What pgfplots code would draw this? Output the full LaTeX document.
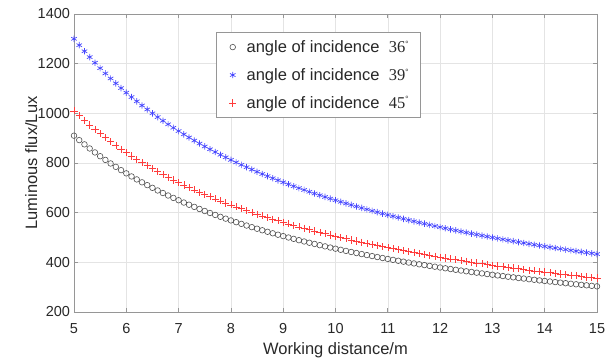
\documentclass[border=0pt]{standalone}
\usepackage{pgfplots}
\pgfplotsset{compat=1.18}
\usepackage{pgfplotstable}
\usepackage{fontspec}
\setmainfont{Liberation Sans}
\newfontfamily\seriffont{Liberation Serif}
\definecolor{gridgray}{RGB}{228,228,228}
\definecolor{axgray}{RGB}{150,150,150}
\definecolor{txtgray}{RGB}{40,40,40}
\definecolor{mkblack}{RGB}{80,80,80}
\definecolor{mkblue}{RGB}{70,70,255}
\definecolor{mkred}{RGB}{255,60,60}
\pgfplotstableread{
x a b c
5.0 910 1300 1010
5.1 892.2 1274.5 990.2
5.2 875 1250 971.2
5.3 858.5 1226.4 952.8
5.4 842.6 1203.7 935.2
5.5 827.3 1181.8 918.2
5.6 812.5 1160.7 901.8
5.7 798.2 1140.4 885.9
5.8 784.5 1120.7 870.7
5.9 771.2 1101.7 855.9
6.0 758.3 1083.3 841.6
6.1 745.9 1065.6 827.9
6.2 733.9 1048.4 814.5
6.3 722.2 1031.7 801.6
6.4 710.9 1015.6 789.0
6.5 700 1000 776.9
6.6 689.4 984.8 765.2
6.7 679.1 970.1 753.7
6.8 669.1 955.9 742.6
6.9 659.4 942.0 731.9
7.0 650 928.6 721.4
7.1 640.8 915.5 711.2
7.2 632.0 902.8 701.4
7.3 623.3 890.4 691.8
7.4 614.9 878.4 682.5
7.5 606.7 866.7 673.4
7.6 598.7 855.3 664.5
7.7 590.9 844.2 655.8
7.8 583.3 833.3 647.4
7.9 575.9 822.8 639.2
8.0 568.8 812.5 631.3
8.1 561.7 802.5 623.4
8.2 554.9 792.7 615.9
8.3 548.2 783.1 608.4
8.4 541.7 773.8 601.2
8.5 535.3 764.7 594.1
8.6 529.1 755.8 587.2
8.7 523.0 747.1 580.5
8.8 517.0 738.6 573.8
8.9 511.2 730.3 567.4
9.0 505.6 722.2 561.2
9.1 500.0 714.3 554.9
9.2 494.6 706.5 548.9
9.3 489.2 698.9 543.0
9.4 484.0 691.5 537.2
9.5 478.9 684.2 531.5
9.6 474.0 677.1 526.1
9.7 469.1 670.1 520.6
9.8 464.3 663.3 515.3
9.9 459.6 656.6 510.1
10.0 455 650 505
10.1 450.5 643.6 500.0
10.2 446.1 637.3 495.1
10.3 441.7 631.1 490.2
10.4 437.5 625.0 485.6
10.5 433.3 619.0 480.9
10.6 429.2 613.2 476.4
10.7 425.2 607.5 471.9
10.8 421.3 601.9 467.6
10.9 417.4 596.3 463.3
11.0 413.6 590.9 459.1
11.1 409.9 585.6 454.9
11.2 406.3 580.4 450.9
11.3 402.7 575.2 446.9
11.4 399.1 570.2 443.0
11.5 395.7 565.2 439.2
11.6 392.2 560.3 435.3
11.7 388.9 555.6 431.6
11.8 385.6 550.8 428.0
11.9 382.4 546.2 424.4
12.0 379.2 541.7 420.9
12.1 376.0 537.2 417.3
12.2 373.0 532.8 414.0
12.3 369.9 528.5 410.6
12.4 366.9 524.2 407.2
12.5 364 520 404
12.6 361.1 515.9 400.8
12.7 358.3 511.8 397.7
12.8 355.5 507.8 394.6
12.9 352.7 503.9 391.5
13.0 350 500 388.5
13.1 347.3 496.2 385.5
13.2 344.7 492.4 382.6
13.3 342.1 488.7 379.7
13.4 339.6 485.1 376.9
13.5 337.0 481.5 374.0
13.6 334.6 477.9 371.4
13.7 332.1 474.5 368.6
13.8 329.7 471.0 365.9
13.9 327.3 467.6 363.3
14.0 325.0 464.3 360.7
14.1 322.7 461.0 358.2
14.2 320.4 457.7 355.6
14.3 318.2 454.5 353.2
14.4 316.0 451.4 350.7
14.5 313.8 448.3 348.3
14.6 311.6 445.2 345.8
14.7 309.5 442.2 343.5
14.8 307.4 439.2 341.2
14.9 305.4 436.2 339.0
15.0 303.3 433.3 336.6
}\datatable
\newcommand{\angdeg}[1]{{\seriffont #1\textsuperscript{\footnotesize °}}}
\begin{document}
\begin{tikzpicture}
\begin{axis}[
  scale only axis,
  width=523bp, height=298bp,
  xmin=5, xmax=15, ymin=200, ymax=1400,
  xtick={5,6,...,15}, ytick={200,400,...,1400},
  grid=major,
  major grid style={gridgray, line width=0.6bp},
  axis line style={axgray, line width=0.8bp},
  tick style={axgray, line width=0.8bp},
  tick align=inside,
  major tick length=4bp,
  /pgf/number format/assume math mode=true,
  ticklabel style={font=\fontsize{14.5bp}{17bp}\selectfont, text=txtgray},
  xticklabel style={anchor=base, yshift=-21bp},
  yticklabel style={anchor=east, xshift=-0.5bp},
  /pgf/number format/1000 sep={},
  xlabel={Working distance/m},
  ylabel={Luminous flux/Lux},
  label style={font=\fontsize{16.5bp}{19bp}\selectfont, text=txtgray},
  xlabel style={at={(axis description cs:0.5,-0.141)}, anchor=base},
  ylabel style={at={(axis description cs:-0.0707,0.5)}, anchor=base},
  legend style={at={(axis description cs:0.2715,0.9396)}, anchor=north west,
    draw=axgray, line width=0.8bp, fill=white,
    font=\fontsize{16.5bp}{19bp}\selectfont, text=txtgray,
    inner xsep=9bp, inner ysep=6bp, row sep=10.5bp,
    /tikz/every odd column/.append style={column sep=7.5bp}},
  legend image code/.code={\path (0bp,0bp) (11bp,0bp); \draw[#1] plot coordinates {(7bp,0bp)};},
  legend cell align=left,
]
\addplot[only marks, mark=o, mark size=2.8bp, mkblack, line width=0.6bp] table[x=x,y=a] {\datatable};
\addlegendentry{angle of incidence \ \angdeg{36}}
\addplot[only marks, mark=asterisk, mark size=3.2bp, mkblue, line width=0.7bp] table[x=x,y=b] {\datatable};
\addlegendentry{angle of incidence \ \angdeg{39}}
\addplot[only marks, mark=+, mark size=3.6bp, mkred, line width=0.6bp] table[x=x,y=c] {\datatable};
\addlegendentry{angle of incidence \ \angdeg{45}}
\end{axis}
\pgfresetboundingbox
\path[use as bounding box] ([xshift=-74bp,yshift=-48bp]current axis.south west) rectangle ([xshift=15bp,yshift=14bp]current axis.north east);
\end{tikzpicture}
\end{document}
